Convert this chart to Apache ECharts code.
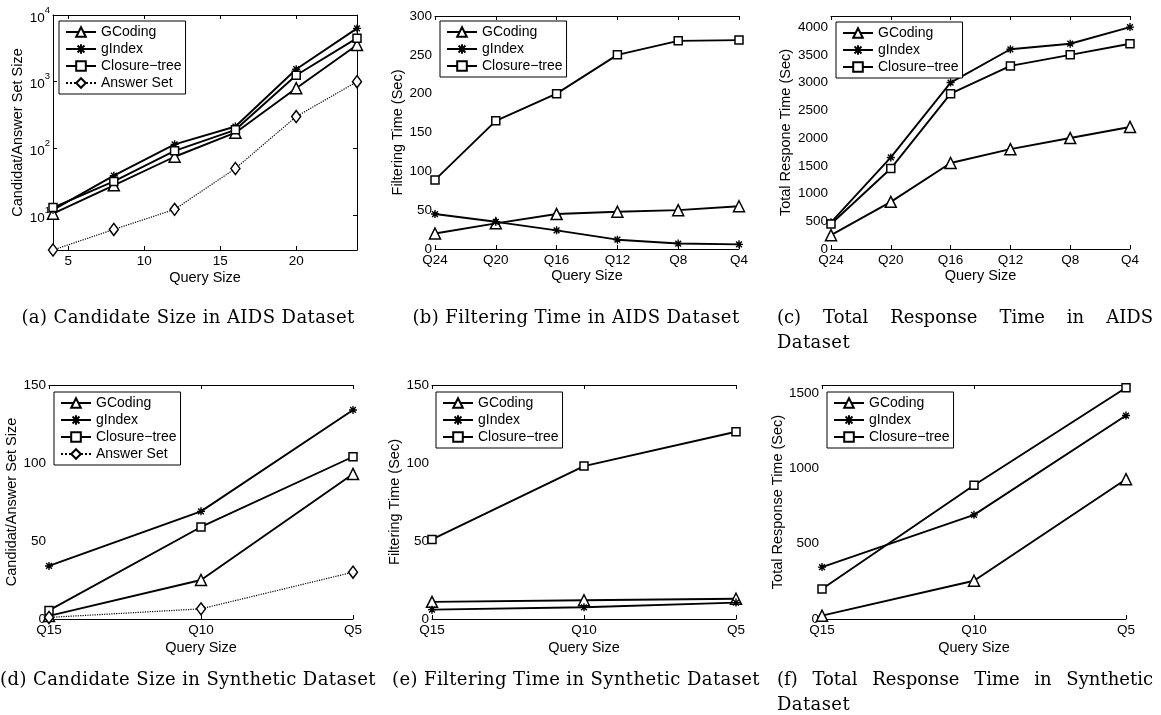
<!DOCTYPE html>
<html>
<head>
<meta charset="utf-8">
<title>GCoding experiments</title>
<script src="https://cdn.jsdelivr.net/npm/echarts@6/dist/echarts.min.js"></script>
<style>
  body { margin: 0; background: #fff; }
  #wrap { position: relative; width: 1161px; height: 715px; }
  #chart { width: 1161px; height: 715px; }
  .cap { position: absolute; font-family: 'DejaVu Serif', serif; font-size: 18px; letter-spacing: 0.4px;
         line-height: 25px; color: #000; white-space: nowrap; }
  .mid { transform: translateX(-50%); }
  .just { width: 376px; text-align: justify; text-align-last: justify; letter-spacing: 0; }
</style>
</head>
<body>
<div id="wrap">
  <div id="chart"></div>
  <div class="cap mid" style="left:188px;top:304px">(a) Candidate Size in AIDS Dataset</div>
  <div class="cap mid" style="left:576px;top:304px">(b) Filtering Time in AIDS Dataset</div>
  <div class="cap just" style="left:777px;top:304px">(c) Total Response Time in AIDS</div>
  <div class="cap" style="left:777px;top:329px">Dataset</div>
  <div class="cap mid" style="left:188px;top:666px">(d) Candidate Size in Synthetic Dataset</div>
  <div class="cap mid" style="left:576px;top:666px">(e) Filtering Time in Synthetic Dataset</div>
  <div class="cap just" style="left:777px;top:666px">(f) Total Response Time in Synthetic</div>
  <div class="cap" style="left:777px;top:691px">Dataset</div>
</div>
<script>
// (a) candidate size, AIDS (log scale)
const querySizeA = [4, 8, 12, 16, 20, 24];
const candGCodingA = [10.5, 28, 75, 172, 800, 3550];
const candGIndexA = [12, 39, 115, 213, 1540, 6300];
const candClosureA = [13, 32, 92, 190, 1250, 4500];
const answerSetA = [3, 6.1, 12.2, 50, 300, 1000];
const querySizeTicksA = [5, 10, 15, 20];

// (b) filtering time, AIDS
const queryLabelsAids = ['Q24', 'Q20', 'Q16', 'Q12', 'Q8', 'Q4'];
const filterGCodingB = [20, 33, 45, 48, 50, 55];
const filterGIndexB = [45, 35, 24, 12, 7, 6];
const filterClosureB = [89, 165, 200, 250, 268, 269];

// (c) total response time, AIDS
const totalGCodingC = [250, 850, 1550, 1800, 2000, 2200];
const totalGIndexC = [480, 1650, 3000, 3600, 3700, 4000];
const totalClosureC = [450, 1450, 2800, 3300, 3500, 3700];

// (d) candidate size, synthetic
const queryLabelsSyn = ['Q15', 'Q10', 'Q5'];
const candGCodingD = [2, 25, 93];
const candGIndexD = [34, 69, 134];
const candClosureD = [5.5, 59, 104];
const answerSetD = [1, 6.5, 30];

// (e) filtering time, synthetic
const filterGCodingE = [11, 12, 13];
const filterGIndexE = [6, 7.5, 10.5];
const filterClosureE = [51, 98, 120];

// (f) total response time, synthetic
const totalGCodingF = [22, 254, 929];
const totalGIndexF = [345, 692, 1352];
const totalClosureF = [199, 889, 1537];

const sans = "'Liberation Sans', Arial, Helvetica, sans-serif";
const txt = { fontFamily: sans, fontSize: 13.5, color: '#000' };
const nameTxt = { fontFamily: sans, fontSize: 14.5, color: '#000' };
const starPath = 'path://M0,-5L0,5M-5,0L5,0M-3.6,-3.6L3.6,3.6M-3.6,3.6L3.6,-3.6';

const grids = [
  { left: 53, top: 15, width: 304, height: 235 },
  { left: 435, top: 16, width: 304, height: 233 },
  { left: 831, top: 16, width: 299, height: 233 },
  { left: 49, top: 385, width: 304, height: 234 },
  { left: 432, top: 385, width: 304, height: 234 },
  { left: 822, top: 385, width: 304, height: 234 }
];

const xAxis = [];
const yAxis = [];

function addX(gi, base, nameGap) {
  const common = {
    gridIndex: gi,
    axisLine: { onZero: false, lineStyle: { color: '#000', width: 1 } },
    axisTick: { inside: true, length: 4, lineStyle: { color: '#000' } },
    splitLine: { show: false }
  };
  xAxis.push(Object.assign({}, common, base, {
    position: 'bottom',
    name: 'Query Size', nameLocation: 'middle', nameGap: nameGap, nameTextStyle: nameTxt,
    axisLabel: Object.assign({ margin: 4, interval: 0 }, txt, base.axisLabel || {})
  }));
  xAxis.push(Object.assign({}, common, base, {
    position: 'top',
    axisLabel: { show: false }
  }));
}

function addY(gi, base, name, nameGap) {
  const common = {
    gridIndex: gi,
    axisLine: { onZero: false, lineStyle: { color: '#000', width: 1 } },
    axisTick: { inside: true, length: 4, lineStyle: { color: '#000' } },
    splitLine: { show: false }
  };
  yAxis.push(Object.assign({}, common, base, {
    position: 'left',
    name: name, nameLocation: 'middle', nameGap: nameGap, nameTextStyle: nameTxt,
    axisLabel: Object.assign({ margin: 3, formatter: v => String(v) }, txt, base.axisLabel || {})
  }));
  yAxis.push(Object.assign({}, common, base, {
    position: 'right',
    axisLabel: { show: false }
  }));
}

// x axes
addX(0, { type: 'value', min: 4, max: 24,
  axisTick: { inside: true, length: 4, lineStyle: { color: '#000' }, customValues: querySizeTicksA },
  axisLabel: { customValues: querySizeTicksA } }, 20);
addX(1, { type: 'category', boundaryGap: false, data: queryLabelsAids }, 19);
addX(2, { type: 'category', boundaryGap: false, data: queryLabelsAids }, 19);
addX(3, { type: 'category', boundaryGap: false, data: queryLabelsSyn }, 21);
addX(4, { type: 'category', boundaryGap: false, data: queryLabelsSyn }, 21);
addX(5, { type: 'category', boundaryGap: false, data: queryLabelsSyn }, 21);

// y axes
const logLabel = {
  formatter: function (v) {
    const e = Math.log10(v);
    const r = Math.round(e);
    if (Math.abs(e - r) > 1e-6) return '';
    return '{b|10}{s|' + r + '}';
  },
  rich: {
    b: { fontFamily: sans, fontSize: 13.5, color: '#000', verticalAlign: 'bottom', lineHeight: 20 },
    s: { fontFamily: sans, fontSize: 9.5, color: '#000', verticalAlign: 'top', lineHeight: 20 }
  }
};
addY(0, { type: 'log', min: 3, max: 10000, axisLabel: logLabel }, 'Candidat/Answer Set Size', 27);
addY(1, { type: 'value', min: 0, max: 300, interval: 50 }, 'Filtering Time (Sec)', 30);
addY(2, { type: 'value', min: 0, max: 4200, interval: 500,
  axisLabel: { showMaxLabel: false } }, 'Total Respone Time (Sec)', 38);
addY(3, { type: 'value', min: 0, max: 150, interval: 50 }, 'Candidat/Answer Set Size', 29);
addY(4, { type: 'value', min: 0, max: 150, interval: 50 }, 'Filtering Time (Sec)', 27);
addY(5, { type: 'value', min: 0, max: 1555, interval: 500,
  axisLabel: { showMaxLabel: false } }, 'Total Response Time (Sec)', 32);

const markers = {
  'GCoding': { symbol: 'triangle', symbolSize: 11, fill: '#fff' },
  'gIndex': { symbol: starPath, symbolSize: 8, fill: '#000' },
  'Closure\u2212tree': { symbol: 'rect', symbolSize: 8, fill: '#fff' },
  'Answer Set': { symbol: 'diamond', symbolSize: [9, 12], fill: '#fff' }
};

const series = [];
function addLine(gi, name, values, xs) {
  const m = markers[name];
  const dotted = name === 'Answer Set';
  series.push({
    name: name,
    type: 'line',
    xAxisIndex: gi * 2,
    yAxisIndex: gi * 2,
    data: xs ? xs.map((x, i) => [x, values[i]]) : values,
    symbol: m.symbol,
    symbolSize: m.symbolSize,
    showAllSymbol: true,
    animation: false,
    z: 3,
    lineStyle: { color: '#000', width: dotted ? 1.2 : 1.9, type: dotted ? 'dotted' : 'solid' },
    itemStyle: { color: m.fill, borderColor: '#000', borderWidth: m.fill === '#000' ? 1.4 : 1.5 }
  });
}

addLine(0, 'GCoding', candGCodingA, querySizeA);
addLine(0, 'gIndex', candGIndexA, querySizeA);
addLine(0, 'Closure\u2212tree', candClosureA, querySizeA);
addLine(0, 'Answer Set', answerSetA, querySizeA);

addLine(1, 'GCoding', filterGCodingB);
addLine(1, 'gIndex', filterGIndexB);
addLine(1, 'Closure\u2212tree', filterClosureB);

addLine(2, 'GCoding', totalGCodingC);
addLine(2, 'gIndex', totalGIndexC);
addLine(2, 'Closure\u2212tree', totalClosureC);

addLine(3, 'GCoding', candGCodingD);
addLine(3, 'gIndex', candGIndexD);
addLine(3, 'Closure\u2212tree', candClosureD);
addLine(3, 'Answer Set', answerSetD);

addLine(4, 'GCoding', filterGCodingE);
addLine(4, 'gIndex', filterGIndexE);
addLine(4, 'Closure\u2212tree', filterClosureE);

addLine(5, 'GCoding', totalGCodingF);
addLine(5, 'gIndex', totalGIndexF);
addLine(5, 'Closure\u2212tree', totalClosureF);

const three = ['GCoding', 'gIndex', 'Closure\u2212tree'];
const four = three.concat(['Answer Set']);
function legendAt(left, top, names) {
  return {
    orient: 'vertical', left: left, top: top,
    itemWidth: 30, itemHeight: 12, itemGap: 3,
    padding: [4, 4, 4, 6],
    borderColor: '#000', borderWidth: 1, backgroundColor: '#fff',
    selectedMode: false,
    textStyle: { fontFamily: sans, fontSize: 14, color: '#000' },
    data: names
  };
}

const chart = echarts.init(document.getElementById('chart'));
chart.setOption({
  backgroundColor: '#fff',
  animation: false,
  grid: grids.map(g => Object.assign({ show: false }, g)),
  xAxis: xAxis,
  yAxis: yAxis,
  legend: [
    legendAt(59, 21, four),
    legendAt(440, 21, three),
    legendAt(836, 22, three),
    legendAt(54, 392, four),
    legendAt(436, 392, three),
    legendAt(827, 392, three)
  ],
  series: series
});
</script>
</body>
</html>
